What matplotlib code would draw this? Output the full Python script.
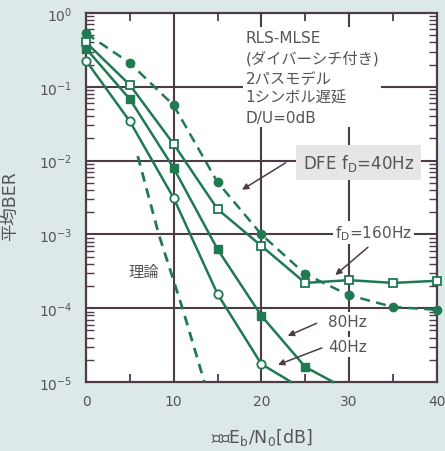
import matplotlib
matplotlib.use('Agg')
import matplotlib.pyplot as plt
from matplotlib.ticker import FixedLocator, LogLocator, NullFormatter

plt.rcParams['font.family'] = ['DejaVu Sans', 'Noto Sans CJK JP']
plt.rcParams['mathtext.fontset'] = 'dejavusans'

# data
snr = [0, 5, 10, 15, 20, 25, 30, 35, 40]
dfe_40 = [0.53, 0.21, 0.056, 0.0051, 0.001, 2.9e-4, 1.5e-4, 1.04e-4, 9.5e-5]
mlse_160 = [0.40, 0.106, 0.0167, 0.0022, 7.0e-4, 2.2e-4, 2.4e-4, 2.2e-4, 2.35e-4]
snr_80 = [0, 5, 10, 15, 20, 25, 28.2]
mlse_80 = [0.33, 0.068, 0.0079, 6.3e-4, 7.9e-5, 1.6e-5, 1e-5]
snr_40 = [0, 5, 10, 15, 20, 23.4]
mlse_40 = [0.226, 0.034, 0.0031, 1.56e-4, 1.75e-5, 1e-5]
snr_theory = [5.9, 8.3, 11.0, 13.5]
ber_theory = [1.15e-2, 1e-3, 1e-4, 1e-5]

x_ticks = [0, 10, 20, 30, 40]
x_minor = [5, 15, 25, 35]
y_ticks = [1, 1e-1, 1e-2, 1e-3, 1e-4, 1e-5]
y_labels = ['$10^{0}$', '$10^{-1}$', '$10^{-2}$', '$10^{-3}$', '$10^{-4}$', '$10^{-5}$']

bg = '#dde8e8'
green = '#1f7a52'
dark = '#4d3b47'
txt = '#555555'

fig = plt.figure(figsize=(4.45, 4.52), dpi=100, facecolor=bg)
ax = fig.add_axes([0.1933, 0.1527, 0.7880, 0.8163])
ax.set_facecolor('white')

ax.set_yscale('log')
ax.set_xlim(0, 40)
ax.set_ylim(1e-5, 1)

for xv in x_ticks[1:-1]:
    ax.axvline(xv, color=dark, lw=1.5, zorder=1)
for yv in y_ticks[1:-1]:
    ax.axhline(yv, color=dark, lw=1.5, zorder=1)

ax.plot(snr_theory, ber_theory, color=green, lw=2, ls=(0, (3.5, 2.5)), zorder=3, clip_on=False)
ax.plot(snr, dfe_40, color=green, lw=1.8, ls=(0, (4, 2.5)), marker='o', ms=6,
        mfc=green, mec=green, zorder=4, clip_on=False)
ax.plot(snr, mlse_160, color=green, lw=1.8, marker='s', ms=6,
        mfc='white', mec=green, mew=1.3, zorder=4, clip_on=False)
ax.plot(snr_80, mlse_80, color=green, lw=1.8, marker='s', ms=6, markevery=list(range(6)),
        mfc=green, mec=green, zorder=4, clip_on=False)
ax.plot(snr_40, mlse_40, color=green, lw=1.8, marker='o', ms=6, markevery=list(range(5)),
        mfc='white', mec=green, mew=1.3, zorder=4, clip_on=False)

for s in ax.spines.values():
    s.set_color(dark)
    s.set_linewidth(1.6)

ax.xaxis.set_major_locator(FixedLocator(x_ticks))
ax.xaxis.set_minor_locator(FixedLocator(x_minor))
ax.set_xticklabels([str(v) for v in x_ticks])
ax.yaxis.set_major_locator(FixedLocator(y_ticks))
ax.set_yticklabels(y_labels)
ax.yaxis.set_minor_locator(LogLocator(base=10, subs=range(2, 10), numticks=20))
ax.yaxis.set_minor_formatter(NullFormatter())
ax.tick_params(which='both', direction='in', top=True, right=True, colors=dark,
               labelcolor=txt, labelsize=10)
ax.tick_params(axis='x', which='major', length=0, pad=9)
ax.tick_params(axis='y', which='major', length=0, pad=10)
ax.tick_params(axis='x', which='minor', length=6, width=1.3)
ax.tick_params(axis='y', which='minor', length=6, width=1.0)

ax.set_xlabel('平均E$_\\mathrm{b}$/N$_\\mathrm{0}$[dB]', color=txt, fontsize=12.5)
ax.set_ylabel('平均BER', color=txt, fontsize=12.5)
ax.xaxis.set_label_coords(0.5, -0.118)
ax.yaxis.set_label_coords(-0.19, 0.48)

box = dict(facecolor='white', edgecolor='none', pad=1.5)
ax.text(0.455, 0.955, 'RLS-MLSE\n(ダイバーシチ付き)\n2パスモデル\n1シンボル遅延\nD/U=0dB',
        transform=ax.transAxes, ha='left', va='top', fontsize=11, color=txt,
        linespacing=1.4, bbox=box, zorder=5)
ax.text(0.777, 0.594, 'DFE f$_\\mathrm{D}$=40Hz', transform=ax.transAxes, ha='center', va='center',
        fontsize=12, color=txt, bbox=dict(facecolor='#e6e6e6', edgecolor='none', pad=5), zorder=5)
ax.text(0.82, 0.406, 'f$_\\mathrm{D}$=160Hz', transform=ax.transAxes, ha='center', va='center',
        fontsize=11, color=txt, bbox=box, zorder=5)
ax.text(0.745, 0.163, '80Hz', transform=ax.transAxes, ha='center', va='center',
        fontsize=11, color=txt, bbox=box, zorder=5)
ax.text(0.745, 0.095, '40Hz', transform=ax.transAxes, ha='center', va='center',
        fontsize=11, color=txt, bbox=box, zorder=5)
ax.text(0.164, 0.30, '理論', transform=ax.transAxes, ha='center', va='center',
        fontsize=11, color=txt, bbox=box, zorder=5)

arrow = dict(arrowstyle='-|>', color=dark, lw=1.1, mutation_scale=9)
ax.annotate('', xy=(0.438, 0.517), xytext=(0.576, 0.598), xycoords='axes fraction',
            arrowprops=arrow, zorder=6)
ax.annotate('', xy=(0.705, 0.285), xytext=(0.81, 0.37), xycoords='axes fraction',
            arrowprops=arrow, zorder=6)
ax.annotate('', xy=(0.568, 0.122), xytext=(0.665, 0.162), xycoords='axes fraction',
            arrowprops=arrow, zorder=6)
ax.annotate('', xy=(0.54, 0.044), xytext=(0.68, 0.095), xycoords='axes fraction',
            arrowprops=arrow, zorder=6)

fig.savefig('out.png', dpi=100, facecolor=bg)
